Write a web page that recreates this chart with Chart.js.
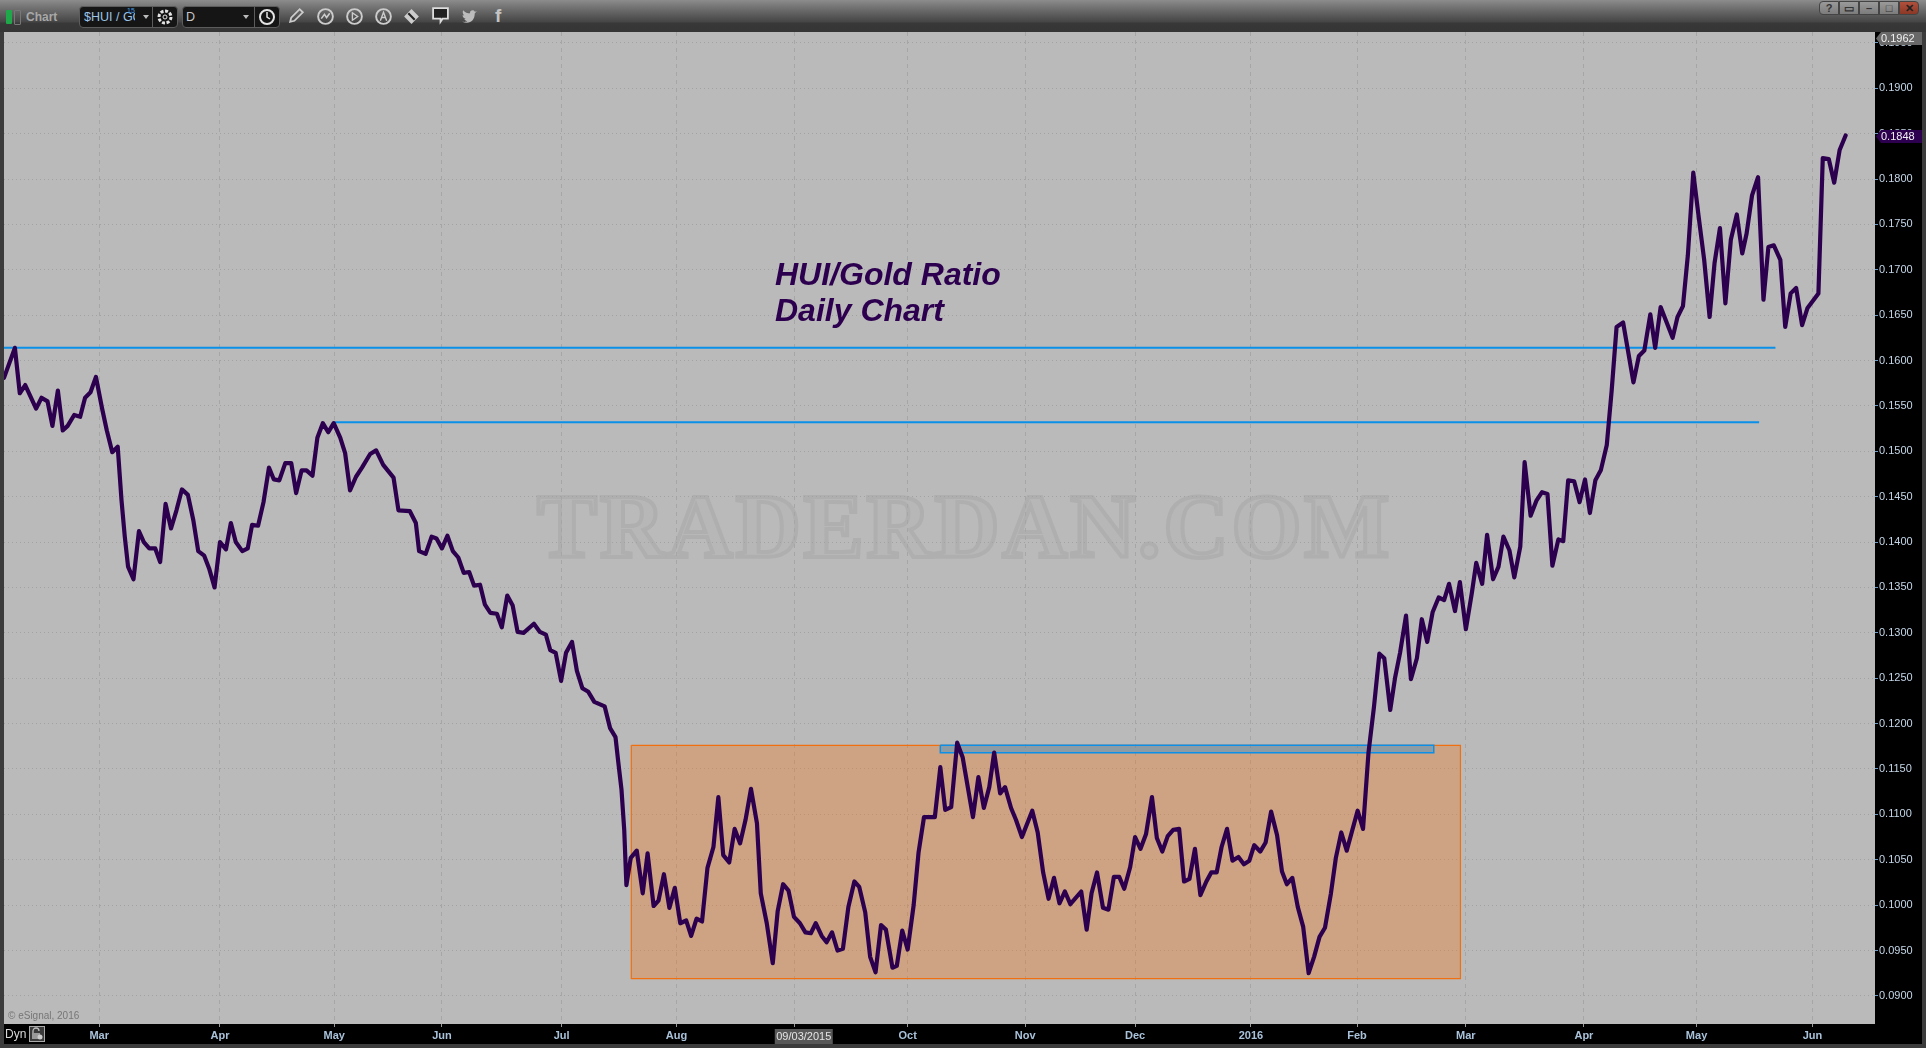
<!DOCTYPE html>
<html>
<head>
<meta charset="utf-8">
<title>HUI/Gold Ratio</title>
<script src="https://cdn.jsdelivr.net/npm/chart.js@4"></script>
<style>
    html, body { margin: 0; padding: 0; width: 1926px; height: 1048px; overflow: hidden; background: #3c3c3c; font-family: "Liberation Sans", Arial, sans-serif; }
    #plot { position: absolute; left: 4px; top: 32px; width: 1871px; height: 992px; background: #bababa; overflow: hidden; }
    #watermark { position: absolute; left: 533px; top: 443px; font: bold 90px "Liberation Serif", serif; letter-spacing: 2.9px; color: #b7b7b7; -webkit-text-stroke: 4px #afafaf; white-space: nowrap; }
    #yband { position: absolute; left: 1875px; top: 32px; width: 47px; height: 1012px; background: #000; }
    #xband { position: absolute; left: 4px; top: 1024px; width: 1918px; height: 20px; background: #000; }
    canvas { position: absolute; left: 0; top: 0; }
    #title { position: absolute; left: 775px; top: 256px; font: italic bold 32px/36px "Liberation Sans", Arial, sans-serif; color: #2d004f; white-space: nowrap; }
    #esignal { position: absolute; left: 8px; top: 1010px; font-size: 10px; line-height: 12px; color: #767676; }
    #topbar { position: absolute; left: 0; top: 0; width: 1926px; height: 32px; background: linear-gradient(#8c8c8c 0, #6a6a6a 10px, #454545 22px, #383838 23px, #353535 32px); color: #b4b4b4; }
    #topbar > * { position: absolute; }
    .box { top: 6px; height: 22px; background: #151515; border: 1px solid #5c5c5c; border-radius: 4px; box-sizing: border-box; }
    .boxtext { top: 9px; font-size: 12.5px; line-height: 16px; white-space: nowrap; overflow: hidden; }
    .div { top: 7px; width: 1px; height: 20px; background: #5c5c5c; }
    .caret { top: 15px; width: 0; height: 0; border-left: 3px solid transparent; border-right: 3px solid transparent; border-top: 4px solid #bbb; }
    .win { top: 1px; width: 20px; height: 14px; box-sizing: border-box; border: 1px solid #444; background: linear-gradient(#9a9a9a, #7c7c7c); color: #333; font: bold 11px/12px "Liberation Sans", Arial, sans-serif; text-align: center; }
    #dyn { position: absolute; left: 5px; top: 1027px; font-size: 12px; line-height: 14px; color: #d8d8d8; }
</style>
</head>
<body>
<div id="plot"><div id="watermark">TRADERDAN.COM</div></div>
<div id="yband"></div>
<div id="xband"></div>
<canvas id="hgChart" width="1926" height="1048"></canvas>
<div id="title">HUI/Gold Ratio<br>Daily Chart</div>
<div id="esignal">© eSignal, 2016</div>
<div id="dyn">Dyn</div>
<svg style="position:absolute;left:29px;top:1026px" width="16" height="16" viewBox="0 0 16 16"><rect x=".5" y=".5" width="15" height="15" fill="#3a3a3a" stroke="#aaa"/><path d="M4 7V5a3 3 0 0 1 6 0" fill="none" stroke="#bbb" stroke-width="1.300"/><rect x="3" y="7" width="8" height="6" fill="#999"/><circle cx="11" cy="11" r="2.500" fill="#ccc"/></svg>
<div id="topbar">
    <div style="left:6px;top:10px;width:6px;height:14px;background:#1fa84a;border-radius:1px"></div>
    <div style="left:14px;top:10px;width:5px;height:13px;border:1px solid #777;border-radius:1px"></div>
    <div style="left:26px;top:9px;font-size:12px;font-weight:bold;line-height:16px;color:#a8a8a8">Chart</div>
    <div class="box" style="left:79px;width:99px"></div>
    <div class="boxtext" style="left:84px;width:51px;color:#9cc4e8">$HUI / GC</div>
    <div style="left:127px;top:7px;font-size:7px;line-height:8px;color:#3f9fe8">15</div>
    <div class="caret" style="left:143px"></div>
    <div class="div" style="left:152px"></div>
    <svg style="left:156px;top:8px" width="18" height="18" viewBox="0 0 18 18"><circle cx="9" cy="9" r="6" fill="none" stroke="#e4e4e4" stroke-width="3" stroke-dasharray="3 1.6"/><circle cx="9" cy="9" r="2" fill="none" stroke="#e4e4e4"/></svg>
    <div class="box" style="left:182px;width:98px"></div>
    <div class="boxtext" style="left:186px;color:#c8c8c8">D</div>
    <div class="caret" style="left:243px"></div>
    <div class="div" style="left:254px"></div>
    <svg style="left:258px;top:8px" width="18" height="18" viewBox="0 0 18 18"><circle cx="9" cy="9" r="7" fill="none" stroke="#e4e4e4" stroke-width="2"/><path d="M9 4v5l3 2" fill="none" stroke="#e4e4e4" stroke-width="1.500"/></svg>
    <svg style="left:287px;top:6px" width="19" height="19" viewBox="0 0 18 18"><path d="M3 15l1-4 8-8 3 3-8 8z" fill="none" stroke="#ccc" stroke-width="1.700"/></svg>
    <svg style="left:316px;top:7px" width="19" height="19" viewBox="0 0 18 18"><circle cx="9" cy="9" r="7" fill="none" stroke="#ccc" stroke-width="1.800"/><path d="M5 11l3-4 2 3 3-4" fill="none" stroke="#ccc" stroke-width="1.500"/></svg>
    <svg style="left:345px;top:7px" width="19" height="19" viewBox="0 0 18 18"><circle cx="9" cy="9" r="7" fill="none" stroke="#ccc" stroke-width="1.800"/><path d="M7 5.500l5 3.500-5 3.500z" fill="none" stroke="#ccc" stroke-width="1.300"/></svg>
    <svg style="left:374px;top:7px" width="19" height="19" viewBox="0 0 18 18"><circle cx="9" cy="9" r="7" fill="none" stroke="#ccc" stroke-width="1.800"/><path d="M6 13l3-8 3 8M7 10h4" fill="none" stroke="#ccc" stroke-width="1.300"/></svg>
    <svg style="left:402px;top:7px" width="19" height="19" viewBox="0 0 18 18"><path d="M9 2l7 7-7 7-7-7z" fill="#ccc"/><path d="M6 6l6 6" stroke="#222" stroke-width="2"/></svg>
    <svg style="left:431px;top:6px" width="19" height="19" viewBox="0 0 18 18"><path d="M2 2h14v10h-5l-2 3v-3H2z" fill="#222" stroke="#ddd" stroke-width="1.700"/></svg>
    <svg style="left:460px;top:7px" width="19" height="19" viewBox="0 0 18 18"><path d="M2 14c7 3 12-1 12-8l2-2-2 .5C13 2 9 3 9.500 6 7 6 5 5 3 3c-1 2 0 4 1 5l-1.500-.4c0 2 1 3 3 3.500l-1.500 .2c.5 1 2 2 3 2-1 .8-3 1-4.500.7z" fill="#bcbcbc"/></svg>
    <div style="left:495px;top:5px;font:bold 19px/22px 'Liberation Sans',sans-serif;color:#c4c4c4">f</div>
    <div class="win" style="left:1819px;border-radius:4px 0 0 4px">?</div>
    <div class="win" style="left:1839px">▭</div>
    <div class="win" style="left:1859px">–</div>
    <div class="win" style="left:1879px">□</div>
    <div class="win" style="left:1899px;border-radius:0 4px 4px 0;background:linear-gradient(#b0503c,#8c3826);color:#222">✕</div>
</div>
<script>
// session number counted from the left edge of the window, ratio
const sessions = [0,2,2.9,3.9,5.9,6.9,8,8.9,9.9,10.8,11.7,12.9,14,14.9,15.9,16.9,18,18.9,19.9,20.9,21.6,22.2,22.8,23.8,24.8,25.7,26.7,27.8,28.7,29.7,30.7,31.7,32.7,33.8,34.8,35.7,36.8,37.7,38.7,39.7,40.8,41.7,42.6,43.8,44.8,45.6,46.7,47.7,48.7,49.6,50.6,51.7,52.8,53.7,54.7,55.6,56.7,57.6,58.6,59.6,60.6,61.8,62.7,63.6,64.7,65.8,67.3,68.4,69.7,71.6,72.5,74.6,75.7,76.3,77.5,78.6,79.5,80.5,81.5,82.5,83.5,84.5,85.5,86.4,87.5,88.4,89.4,90.6,91.5,92.5,93.5,94.4,95.5,97.4,98.5,99.6,100.4,101.4,102.4,103.3,104.4,105.3,106.3,107.4,108.5,110.4,111.4,112.4,112.9,113.5,114,114.4,115.2,116.3,117.4,118.3,119.4,120.3,121.3,122.3,123.3,124.3,125.4,126.3,127.3,128.3,129.3,130.4,131.3,132.2,133.3,134.3,135.3,136.3,137.3,138.4,139.1,140.2,141.3,142.2,143.2,144.2,145.2,146.3,147.3,148.3,149.2,150.3,151.2,152.2,153.2,154.2,155.2,156.3,157.2,158.3,159.2,160.2,161.2,162.1,163.3,164.1,165.1,166.1,167.2,168.1,169.1,171.1,172.1,173,174.1,175.2,176.2,178.1,179.1,180.1,181.1,182,183.1,184,185.1,186,187.1,189,190,191,192,193,194,195,196,198,199,199.9,200.9,202,203,204,205,205.9,207,207.9,208.9,209.9,211,211.9,212.9,213.9,214.9,216,216.9,217.9,218.9,219.9,221,221.9,222.9,223.8,224.8,225.8,226.9,227.9,228.9,229.8,230.9,231.9,232.9,234,234.9,235.8,236.8,237.8,238.8,239.8,240.8,241.8,242.8,243.9,244.8,245.8,246.8,248.8,249.8,250.8,251.8,252.8,253.7,254.8,255.7,256.6,257.7,258.6,259.7,260.6,261.6,262.6,263.7,264.7,265.6,266.7,267.6,268.7,269.8,270.6,271.7,272.6,273.7,274.7,275.6,276.7,277.6,278.7,279.5,280.6,281.7,282.7,283.7,284.6,285.7,286.6,287.5,288.6,289.6,290.6,291.5,292.5,293.5,294.6,295.5,296.4,297.6,299.5,300.5,301.5,302.6,303.5,304.5,306.7,307.6,308.6,309.5,310.5,311.5,312.5,313.5,314.4,315.4,316.4,317.4,318.5,319.5,320.3,321.3,322.4,323.4,324.3,325.3,326.5,327.4,328.4,329.4,330.5,331.5,333.5,334.3,335.4,336.4,337.4,338.5];
const ratio = [.1581,.1614,.1564,.1573,.1547,.1559,.1555,.1528,.1567,.1523,.1528,.1540,.1538,.1559,.1565,.1582,.1548,.1523,.1499,.1505,.1446,.1406,.1373,.1359,.1412,.1400,.1393,.1393,.1378,.1442,.1415,.1435,.1458,.1452,.1424,.1390,.1385,.1371,.1350,.1400,.1392,.1421,.1400,.1390,.1393,.1419,.1418,.1444,.1482,.1469,.1468,.1487,.1487,.1454,.1479,.1479,.1473,.1515,.1531,.1521,.1531,.1515,.1498,.1457,.1472,.1482,.1497,.1501,.1485,.1471,.1435,.1434,.1421,.1390,.1387,.1406,.1404,.1393,.1407,.1390,.1383,.1366,.1367,.1352,.1353,.1331,.1322,.1321,.1306,.1341,.1330,.1301,.1300,.1310,.1301,.1298,.1281,.1278,.1247,.1278,.1290,.1258,.1239,.1235,.1224,.1219,.1195,.1185,.1158,.1127,.1083,.1022,.1052,.1060,.1013,.1057,.0999,.1005,.1034,.0997,.1019,.0980,.0983,.0966,.0985,.0982,.1041,.1064,.1119,.1055,.1047,.1084,.1068,.1094,.1128,.1090,.1013,.0980,.0936,.0993,.1023,.1016,.0987,.0980,.0970,.0969,.0980,.0966,.0959,.0970,.0950,.0952,.0998,.1026,.1020,.0992,.0943,.0926,.0978,.0973,.0931,.0933,.0972,.0951,.1000,.1058,.1097,.1097,.1152,.1105,.1108,.1179,.1163,.1097,.1141,.1107,.1130,.1168,.1123,.1130,.1107,.1094,.1075,.1104,.1080,.1036,.1007,.1030,.1002,.1015,.1001,.1015,.0973,.1013,.1036,.0997,.0995,.1031,.1031,.1018,.1042,.1075,.1062,.1078,.1119,.1074,.1059,.1076,.1083,.1084,.1026,.1029,.1062,.1011,.1026,.1036,.1036,.1064,.1084,.1049,.1053,.1045,.1049,.1066,.1059,.1069,.1103,.1077,.1037,.1023,.1030,.0998,.0976,.0925,.0943,.0965,.0975,.1013,.1052,.1080,.1060,.1104,.1084,.1168,.1218,.1277,.1272,.1215,.1251,.1278,.1319,.1249,.1272,.1315,.1290,.1323,.1339,.1336,.1354,.1324,.1356,.1304,.1344,.1377,.1354,.1408,.1359,.1373,.1406,.1391,.1361,.1395,.1488,.1429,.1446,.1455,.1453,.1374,.1403,.1401,.1468,.1467,.1444,.1469,.1432,.1468,.1479,.1507,.1567,.1637,.1642,.1576,.1605,.1611,.1651,.1614,.1659,.1625,.1648,.1660,.1716,.1807,.1758,.1711,.1648,.1707,.1746,.1663,.1733,.1761,.1718,.1740,.1782,.1802,.1667,.1725,.1727,.1711,.1637,.1674,.1680,.1639,.1658,.1674,.1823,.1822,.1796,.1832,.1848];

const monthTicks = [17.5,39.7,60.7,80.5,102.5,123.6,145.3,166.1,187.7,207.9,229.2,248.7,268.7,290.4,311.1,332.4];
const monthLabels = ['Mar','Apr','May','Jun','Jul','Aug','Sep','Oct','Nov','Dec','2016','Feb','Mar','Apr','May','Jun'];
const priceTicks = [.09,.095,.10,.105,.11,.115,.12,.125,.13,.135,.14,.145,.15,.155,.16,.165,.17,.175,.18,.185,.19,.195];

// levels and zones drawn on the original chart
const upperLevel = { x: [0, 325.6], y: [.1614, .1614] };
const lowerLevel = { x: [60.8, 322.6], y: [.1532, .1532] };
const rangeBox = { x: [115.3, 267.7, 267.7, 115.3, 115.3], y: [.1176, .1176, .0919, .0919, .1176] };
const resistBox = { x: [172.1, 262.8, 262.8, 172.1, 172.1], y: [.1176, .1176, .1168, .1168, .1176] };

const lastPrice = .1848;
const scaleTop = .1962;
const scaleBottom = .0869;
const cursorSession = 147;
const cursorLabel = '09/03/2015';

const toPoints = (xs, ys) => xs.map((x, i) => ({ x: x, y: ys[i] }));

// price tags and the date tag sit on top of the black axis bands
const axisTags = {
    id: 'axisTags',
    afterDraw(chart) {
        const c = chart.ctx;
        const y = chart.scales.y;
        const x = chart.scales.x;
        const tag = (value, color) => {
            const py = Math.max(y.getPixelForValue(value) + 1, 38.5);
            c.fillStyle = color;
            c.beginPath();
            c.moveTo(1876, py);
            c.lineTo(1881, py - 6.5);
            c.lineTo(1922, py - 6.5);
            c.lineTo(1922, py + 6.5);
            c.lineTo(1881, py + 6.5);
            c.closePath();
            c.fill();
            c.fillStyle = '#f0f0f0';
            c.font = '11px "Liberation Sans", Arial, sans-serif';
            c.textAlign = 'left';
            c.textBaseline = 'middle';
            c.fillText(value.toFixed(4), 1881, py + 0.5);
        };
        tag(scaleTop, '#686868');
        tag(lastPrice, '#2d004f');

        const cx = x.getPixelForValue(cursorSession);
        c.fillStyle = '#585858';
        c.fillRect(cx - 29, 1029, 58, 15);
        c.fillStyle = '#e4e4e4';
        c.font = '11px "Liberation Sans", Arial, sans-serif';
        c.textAlign = 'center';
        c.textBaseline = 'middle';
        c.fillText(cursorLabel, cx, 1036.5);
    }
};

new Chart(document.getElementById('hgChart'), {
    type: 'scatter',
    data: {
        datasets: [
            { data: toPoints(sessions, ratio), showLine: true, borderColor: '#2d004f', borderWidth: 4.2, borderJoinStyle: 'round', borderCapStyle: 'round', pointRadius: 0, tension: 0, order: 0 },
            { data: toPoints(upperLevel.x, upperLevel.y), showLine: true, borderColor: '#0a90e8', borderWidth: 2, pointRadius: 0, order: 1 },
            { data: toPoints(lowerLevel.x, lowerLevel.y), showLine: true, borderColor: '#0a90e8', borderWidth: 2, pointRadius: 0, order: 1 },
            { data: toPoints(resistBox.x, resistBox.y), showLine: true, borderColor: '#0a90e8', borderWidth: 1.5, backgroundColor: 'rgba(10, 144, 232, 0.33)', fill: 'shape', pointRadius: 0, order: 2 },
            { data: toPoints(rangeBox.x, rangeBox.y), showLine: true, borderColor: '#f07010', borderWidth: 1.2, backgroundColor: 'rgba(246, 115, 17, 0.32)', fill: 'shape', pointRadius: 0, order: 3 }
        ]
    },
    plugins: [axisTags],
    options: {
        responsive: false,
        animation: false,
        layout: { padding: { left: 4, top: 32, right: 4, bottom: 4 } },
        plugins: { legend: { display: false }, tooltip: { enabled: false } },
        scales: {
            x: {
                type: 'linear',
                min: 0,
                max: 343.9,
                afterBuildTicks: axis => { axis.ticks = monthTicks.map(v => ({ value: v })); },
                afterFit: axis => { axis.height = 20; },
                grid: { color: '#a6a6a6', tickColor: '#9a9a9a', tickLength: 3, lineWidth: 1 },
                border: { dash: [4, 4], display: false },
                ticks: {
                    autoSkip: false,
                    maxRotation: 0,
                    padding: 2,
                    color: '#a9c2da',
                    font: { family: '"Liberation Sans", Arial, sans-serif', size: 11, weight: 'bold' },
                    callback: (v, i) => monthLabels[i]
                }
            },
            y: {
                type: 'linear',
                position: 'right',
                min: scaleBottom,
                max: scaleTop,
                afterBuildTicks: axis => { axis.ticks = priceTicks.map(v => ({ value: v })); },
                afterFit: axis => { axis.width = 47; },
                grid: { color: '#a2a2a2', tickColor: '#6f9cc4', tickLength: 3, lineWidth: 1 },
                border: { dash: [1, 3], display: false },
                ticks: {
                    autoSkip: false,
                    padding: 1,
                    color: '#c4d6e8',
                    font: { family: '"Liberation Sans", Arial, sans-serif', size: 11 },
                    callback: v => v.toFixed(4)
                }
            }
        }
    }
});
</script>
</body>
</html>
